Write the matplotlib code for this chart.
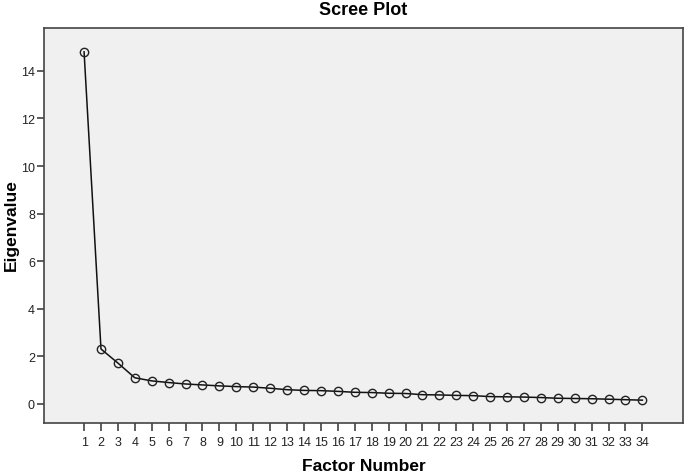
import matplotlib
matplotlib.use("Agg")
import matplotlib.pyplot as plt

factors = list(range(1, 35))
eigenvalues = [14.8, 2.31, 1.72, 1.10, 0.97, 0.90, 0.84, 0.80, 0.76, 0.73,
               0.71, 0.66, 0.60, 0.57, 0.56, 0.53, 0.49, 0.48, 0.45, 0.44,
               0.39, 0.38, 0.36, 0.35, 0.31, 0.30, 0.29, 0.27, 0.24, 0.23,
               0.22, 0.20, 0.18, 0.16]
yticks = [0, 2, 4, 6, 8, 10, 12, 14]

plt.rcParams['font.family'] = ['Liberation Sans', 'DejaVu Sans']

fig = plt.figure(figsize=(6.85, 4.77), dpi=100)
ax = fig.add_axes([0.0642, 0.1111, 0.9328, 0.8281])
ax.set_facecolor('#F0F0F0')
ax.plot(factors, eigenvalues, color='#111111', lw=1.1, marker='o', ms=6,
        mfc='none', mec='#222222', mew=1.0)
ax.set_xlim(-1.37, 36.4)
ax.set_ylim(-0.8, 15.8)
ax.set_xticks(factors)
ax.set_xticklabels([str(f) for f in factors])
ax.set_yticks(yticks)
ax.set_yticklabels([str(t) for t in yticks])
ax.tick_params(axis='x', direction='out', length=6, width=1.1, color='#333333',
               labelsize=9, pad=3, labelcolor='#222222')
ax.tick_params(axis='y', direction='out', length=5, width=1.1, color='#333333',
               labelsize=9, pad=1.5, labelcolor='#222222')
for s in ax.spines.values():
    s.set_color('#444444')
    s.set_linewidth(1.2)
ax.set_title('Scree Plot', fontsize=13, fontweight='bold', pad=10)
ax.set_xlabel('Factor Number', fontsize=12.5, fontweight='bold')
ax.set_ylabel('Eigenvalue', fontsize=12.5, fontweight='bold')
ax.xaxis.set_label_coords(0.5, -0.088)
ax.yaxis.set_label_coords(-0.040, 0.504)
fig.savefig('out.png', dpi=100, facecolor='white')
